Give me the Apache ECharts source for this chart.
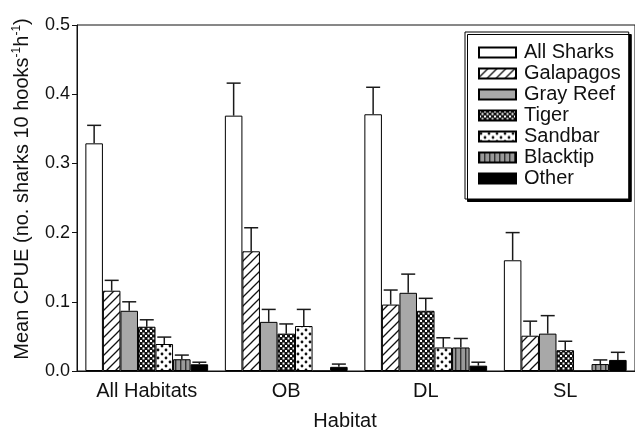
<!DOCTYPE html>
<html><head><meta charset="utf-8">
<script src="https://cdn.jsdelivr.net/npm/echarts@6/dist/echarts.min.js"></script>
<style>html,body{margin:0;padding:0;background:#fff}#c{width:635px;height:436px}</style>
</head><body><div id="c"></div>
<script>
const categories = ['All Habitats', 'OB', 'DL', 'SL'];
const seriesNames = ['All Sharks', 'Galapagos', 'Gray Reef', 'Tiger', 'Sandbar', 'Blacktip', 'Other'];
const allSharks = [0.329, 0.369, 0.371, 0.160];
const allSharksErr = [0.026, 0.047, 0.039, 0.040];
const galapagos = [0.116, 0.173, 0.096, 0.051];
const galapagosErr = [0.015, 0.034, 0.021, 0.021];
const grayReef = [0.087, 0.071, 0.113, 0.054];
const grayReefErr = [0.013, 0.018, 0.027, 0.026];
const tiger = [0.064, 0.054, 0.087, 0.030];
const tigerErr = [0.010, 0.014, 0.018, 0.013];
const sandbar = [0.039, 0.065, 0.034, 0];
const sandbarErr = [0.010, 0.024, 0.014, null];
const blacktip = [0.017, 0, 0.034, 0.010];
const blacktipErr = [0.006, null, 0.013, 0.006];
const other = [0.0097, 0.006, 0.0077, 0.016];
const otherErr = [0.003, 0.004, 0.005, 0.011];
const yTicks = [0, 0.1, 0.2, 0.3, 0.4, 0.5];

const values = [allSharks, galapagos, grayReef, tiger, sandbar, blacktip, other];
const errors = [allSharksErr, galapagosErr, grayReefErr, tigerErr, sandbarErr, blacktipErr, otherErr];

function tile(w, h, draw) {
  const c = document.createElement('canvas');
  c.width = w; c.height = h;
  const g = c.getContext('2d');
  draw(g, w, h);
  return { image: c, repeat: 'repeat' };
}
const fills = [
  '#ffffff',
  tile(9, 9, (g, w, h) => {
    g.fillStyle = '#fff'; g.fillRect(0, 0, w, h);
    g.strokeStyle = '#111'; g.lineWidth = 1.3;
    g.beginPath();
    g.moveTo(-1, h + 1); g.lineTo(w + 1, -1);
    g.moveTo(-1, 1); g.lineTo(1, -1);
    g.moveTo(w - 1, h + 1); g.lineTo(w + 1, h - 1);
    g.stroke();
  }),
  '#a8a8a8',
  tile(5, 5, (g, w, h) => {
    g.fillStyle = '#111'; g.fillRect(0, 0, w, h);
    g.fillStyle = '#fff';
    g.fillRect(0, 0, 2, 2);
    g.fillRect(2.5, 2.5, 2, 2);
  }),
  tile(8, 8, (g, w, h) => {
    g.fillStyle = '#fff'; g.fillRect(0, 0, w, h);
    g.fillStyle = '#111';
    g.beginPath(); g.arc(2, 2, 1.4, 0, Math.PI * 2); g.fill();
    g.beginPath(); g.arc(6, 6, 1.4, 0, Math.PI * 2); g.fill();
  }),
  tile(5, 4, (g, w, h) => {
    g.fillStyle = '#9a9a9a'; g.fillRect(0, 0, w, h);
    g.fillStyle = '#333'; g.fillRect(0, 0, 1.4, h);
  }),
  '#000000'
];

const barSeries = seriesNames.map((name, i) => ({
  name: name,
  type: 'bar',
  barGap: '0%',
  barCategoryGap: '12%',
  data: values[i],
  itemStyle: { color: fills[i], borderColor: '#000', borderWidth: 1 },
  emphasis: { disabled: true },
  z: 2
}));

const errData = [];
errors.forEach((arr, s) => {
  arr.forEach((e, c) => {
    if (e !== null) errData.push([c, s, values[s][c], e]);
  });
});

const errSeries = {
  type: 'custom',
  name: 'err',
  z: 3,
  encode: { x: 0, y: 2 },
  data: errData,
  renderItem: function (params, api) {
    const c = api.value(0), s = api.value(1), v = api.value(2), e = api.value(3);
    const p0 = api.coord([c, v]);
    const p1 = api.coord([c, v + e]);
    const band = api.size([1, 0])[0];
    const bw = band * 0.88 / 7;
    const x = p0[0] + (s - 3) * bw;
    const cap = 7;
    const st = { stroke: '#1a1a1a', lineWidth: 1.5 };
    return {
      type: 'group',
      children: [
        { type: 'line', shape: { x1: x, y1: p0[1], x2: x, y2: p1[1] }, style: st },
        { type: 'line', shape: { x1: x - cap, y1: p1[1], x2: x + cap, y2: p1[1] }, style: st }
      ]
    };
  }
};

const chart = echarts.init(document.getElementById('c'));
chart.setOption({
  animation: false,
  textStyle: { fontFamily: 'Liberation Sans, Arial, sans-serif' },
  grid: { left: 77, top: 25, width: 567, height: 346, show: true, borderColor: '#111', borderWidth: 1, backgroundColor: 'transparent' },
  legend: {
    data: seriesNames,
    orient: 'vertical',
    left: 465, top: 32,
    padding: [10, 8, 10, 13],
    itemGap: 0,
    itemWidth: 37, itemHeight: 10,
    icon: 'rect',
    backgroundColor: '#fff',
    borderColor: '#000', borderWidth: 1,
    shadowColor: '#000', shadowBlur: 0, shadowOffsetX: 2.5, shadowOffsetY: 2.5,
    selectedMode: false,
    textStyle: { fontSize: 20, color: '#111', lineHeight: 21, padding: [0, 0, 0, 3], fontFamily: 'Liberation Sans, Arial, sans-serif' }
  },
  xAxis: {
    type: 'category',
    data: categories,
    axisLine: { lineStyle: { color: '#111', width: 1 } },
    axisTick: { alignWithLabel: true, length: 6, lineStyle: { color: '#111' } },
    axisLabel: { fontSize: 20, color: '#111', margin: 10 }
  },
  yAxis: {
    type: 'value',
    min: 0, max: 0.5, interval: 0.1,
    axisLine: { show: true, lineStyle: { color: '#111', width: 1 } },
    axisTick: { show: true, length: 5, lineStyle: { color: '#111' } },
    splitLine: { show: false },
    axisLabel: { fontSize: 18, color: '#111', margin: 7, formatter: v => (yTicks.indexOf(Math.round(v * 10) / 10) >= 0 ? v.toFixed(1) : '') }
  },
  graphic: [
    {
      type: 'text', x: 345, y: 421,
      style: { text: 'Habitat', fontSize: 20, fill: '#111', align: 'center', verticalAlign: 'middle', fontFamily: 'Liberation Sans, Arial, sans-serif' }
    },
    {
      type: 'text', x: 22, y: 189, rotation: Math.PI / 2,
      style: {
        text: '{a|Mean CPUE (no. sharks 10 hooks}{s|-1}{a|h}{s|-1}{a|)}',
        align: 'center', verticalAlign: 'middle', fill: '#111',
        rich: {
          a: { fontSize: 20, lineHeight: 22, fill: '#111', fontFamily: 'Liberation Sans, Arial, sans-serif' },
          s: { fontSize: 12, lineHeight: 22, verticalAlign: 'top', fill: '#111', fontFamily: 'Liberation Sans, Arial, sans-serif' }
        }
      }
    }
  ],
  series: barSeries.concat([errSeries])
});
</script></body></html>
